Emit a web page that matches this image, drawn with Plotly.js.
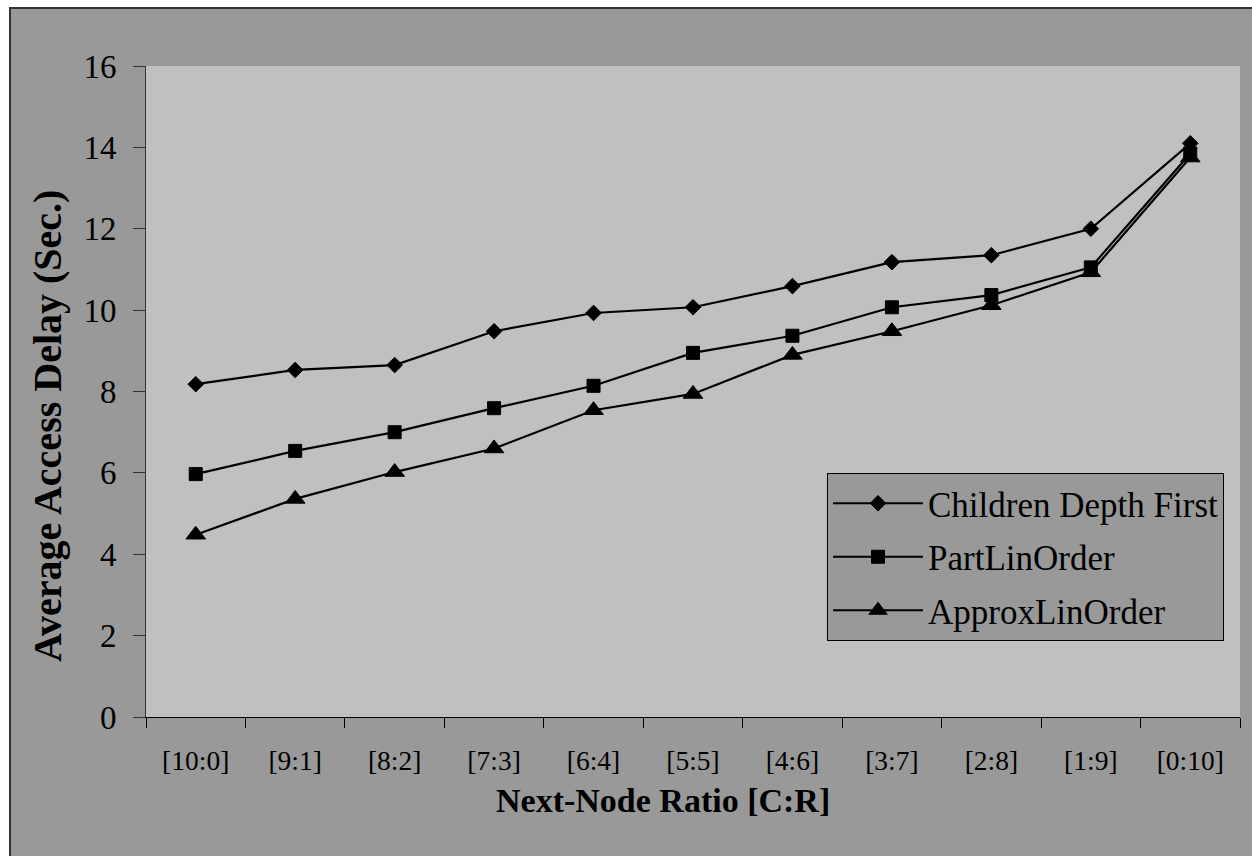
<!DOCTYPE html>
<html>
<head>
<meta charset="utf-8">
<script src="https://cdn.plot.ly/plotly-3.0.1.min.js"></script>
<style>
  html, body { margin: 0; padding: 0; background: #ffffff; }
  #wrap { width: 1252px; height: 856px; box-sizing: border-box; padding-left: 9px; padding-top: 7px; background: #ffffff; overflow: hidden; }
  #chart { width: 1241px; height: 847px; border-left: 2px solid #333333; border-top: 2px solid #333333; }
</style>
</head>
<body>
<div id="wrap"><div id="chart"></div></div>
<script>
// Next-node ratio categories [children : random]
const ratios = ['[10:0]', '[9:1]', '[8:2]', '[7:3]', '[6:4]', '[5:5]', '[4:6]', '[3:7]', '[2:8]', '[1:9]', '[0:10]'];

// Average access delay in seconds for each ordering scheme
const childrenDepthFirst = [8.18, 8.53, 8.65, 9.48, 9.93, 10.07, 10.59, 11.18, 11.35, 12.0, 14.1];
const partLinOrder       = [5.97, 6.54, 7.0, 7.59, 8.14, 8.95, 9.37, 10.07, 10.37, 11.05, 13.85];
const approxLinOrder     = [4.48, 5.36, 6.02, 6.6, 7.54, 7.94, 8.9, 9.48, 10.12, 10.93, 13.75];

const seriesNames = ['Children Depth First', 'PartLinOrder', 'ApproxLinOrder'];
const xTitle = 'Next-Node Ratio [C:R]';
const yTitle = 'Average Access Delay (Sec.)';

const serif = 'Liberation Serif, Times New Roman, serif';

function series(name, values, symbol, size) {
  return {
    type: 'scatter',
    mode: 'lines+markers',
    name: name,
    legendgroup: name,
    x: ratios,
    y: values,
    line: { color: '#000000', width: 2.2 },
    marker: { symbol: symbol, size: size, color: '#000000', line: { color: '#000000', width: 1 } },
    cliponaxis: false
  };
}

const traces = [
  series(seriesNames[0], childrenDepthFirst, 'diamond', 12),
  series(seriesNames[1], partLinOrder, 'square', 13),
  series(seriesNames[2], approxLinOrder, 'triangle-up', 17)
];

const layout = {
  width: 1241,
  height: 847,
  margin: { l: 135, r: 12, t: 57, b: 139, pad: 0 },
  paper_bgcolor: '#999999',
  plot_bgcolor: '#c0c0c0',
  font: { family: serif, color: '#000000' },
  showlegend: true,
  legend: {
    x: 0.6225, y: 0.3748, xanchor: 'left', yanchor: 'top',
    bgcolor: '#999999', bordercolor: '#000000', borderwidth: 1,
    font: { family: serif, size: 35, color: '#000000' },
    itemwidth: 90,
    traceorder: 'grouped', tracegroupgap: 5
  },
  xaxis: {
    type: 'category',
    range: [-0.5, ratios.length - 0.5],
    tickson: 'boundaries',
    ticks: 'outside', ticklen: 10, tickwidth: 1, tickcolor: '#000000',
    showline: true, linecolor: '#000000', linewidth: 1,
    showgrid: false, zeroline: false,
    ticklabelstandoff: 19,
    tickfont: { family: serif, size: 27.5, color: '#000000' },
    fixedrange: true
  },
  yaxis: {
    range: [0, 16], dtick: 2,
    ticks: 'outside', ticklen: 12, tickwidth: 1, tickcolor: '#333333',
    showline: true, linecolor: '#333333', linewidth: 1,
    showgrid: false, zeroline: false,
    ticklabelstandoff: 10,
    tickfont: { family: serif, size: 33, color: '#000000' },
    fixedrange: true
  },
  annotations: [
    {
      text: xTitle, xref: 'paper', yref: 'paper',
      x: 0.4726, y: -0.1275, xanchor: 'center', yanchor: 'middle',
      showarrow: false,
      font: { family: serif, size: 34, color: '#000000', weight: 'bold' }
    },
    {
      text: yTitle, xref: 'paper', yref: 'paper',
      x: -0.0905, y: 0.447, xanchor: 'center', yanchor: 'middle',
      textangle: -90, showarrow: false,
      font: { family: serif, size: 40, color: '#000000', weight: 'bold' }
    }
  ]
};

Plotly.newPlot('chart', traces, layout, { displayModeBar: false, staticPlot: true });
</script>
</body>
</html>
